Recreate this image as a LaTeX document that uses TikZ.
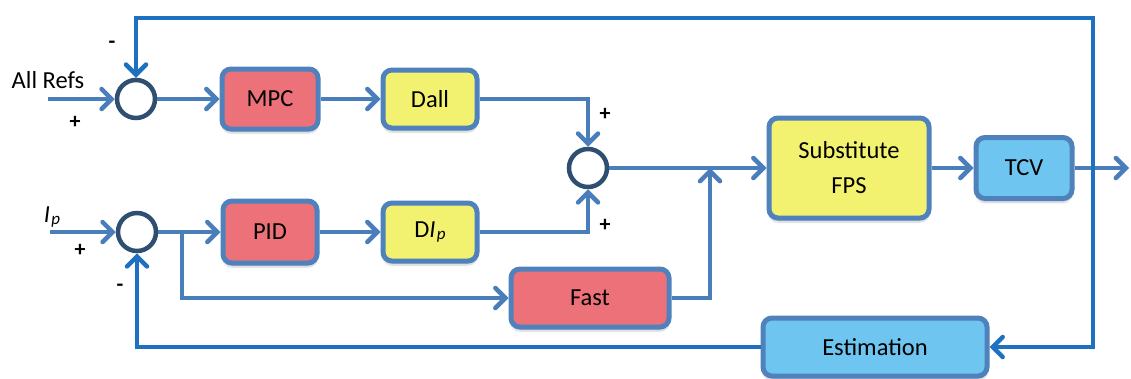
\documentclass[tikz,border=0pt]{standalone}
\usepackage{fontspec}
\setmainfont{Carlito}
\usetikzlibrary{arrows.meta,shadows.blur}
\definecolor{flowblue}{RGB}{74,126,187}
\definecolor{loopblue}{RGB}{30,112,192}
\definecolor{ringblue}{RGB}{46,78,114}
\definecolor{edgeblue}{RGB}{79,129,189}
\definecolor{ctrlred}{RGB}{236,113,120}
\definecolor{plantyel}{RGB}{242,242,112}
\definecolor{procblue}{RGB}{110,197,240}
\newcommand{\Ip}{{\itshape I\kern0.05em\raisebox{-0.2ex}{\fontsize{17}{17}\selectfont p}}}
\tikzset{
  block/.style={draw=edgeblue, line width=5pt, rounded corners=9pt, align=center,
    inner sep=0pt, font=\fontsize{24.5}{29}\selectfont,
    blur shadow={shadow xshift=0pt, shadow yshift=-4pt, shadow opacity=20, shadow blur steps=6}},
  ctrl/.style={block, fill=ctrlred},
  plant/.style={block, fill=plantyel},
  proc/.style={block, fill=procblue},
  summer/.style={circle, draw=ringblue, line width=4.5pt, fill=white, minimum size=38pt, inner sep=0pt},
  flow/.style={draw=flowblue, line width=4.5pt, -{Straight Barb[length=10pt,width=20pt,line cap=round]}},
  loop/.style={draw=loopblue, line width=4.5pt, -{Straight Barb[length=10pt,width=20pt,line cap=round]}},
  sign/.style={font=\bfseries\fontsize{22}{22}\selectfont, inner sep=0pt},
  lbl/.style={font=\fontsize{24.5}{29}\selectfont, inner sep=0pt}
}
\begin{document}
\begin{tikzpicture}[x=1pt, y=-1pt]
\useasboundingbox (0,0) rectangle (1131,378);

% summing junctions
\node[summer] (s1) at (136,99) {};
\node[summer] (s3) at (137,232) {};
\node[summer] (s2) at (588,168) {};

% blocks
\node[ctrl, minimum width=96pt, minimum height=60pt] (mpc) at (270,99) {MPC};
\node[plant, minimum width=94pt, minimum height=58pt] (dall) at (430,99) {Dall};
\node[ctrl, minimum width=94pt, minimum height=62pt] (pid) at (270,232) {PID};
\node[plant, minimum width=94pt, minimum height=58pt] (dip) at (430,232) {D\Ip};
\node[ctrl, minimum width=158pt, minimum height=58pt] (fast) at (590,298) {Fast};
\node[plant, minimum width=160pt, minimum height=100pt] (sub) at (849,168) {Substitute\\[6pt]FPS};
\node[proc, minimum width=96pt, minimum height=61pt] (tcv) at (1024,168) {TCV};
\node[proc, minimum width=224pt, minimum height=58pt] (est) at (875,347) {Estimation};

% labels and signs
\node[lbl] (allrefs) at (48,80) {All Refs};
\node[lbl] (iplbl) at (52,217) {\Ip};
\node[sign] (p1) at (75,122) {+};
\node[sign] (m1) at (112,45) {-};
\node[sign] (p3) at (80,250) {+};
\node[sign] (m3) at (120,288) {-};
\node[sign] (p2a) at (605,114) {+};
\node[sign] (p2b) at (605,225) {+};

% auxiliary points
\coordinate (in1) at (48,99);
\coordinate (in2) at (50,232);
\coordinate (split) at (182,232);
\coordinate (merge) at (710,168);
\coordinate (tap) at (1093,168);
\coordinate (out) at (1129,168);
\coordinate (topright) at (1093,18);
\coordinate (botright) at (1093,347);

% forward paths
\draw[flow] (in1) -- (s1.west);
\draw[flow] (s1.east) -- (mpc.west);
\draw[flow] (mpc.east) -- (dall.west);
\draw[flow] (dall.east) -| (s2.north);
\draw[flow] (in2) -- (s3.west);
\draw[flow] (s3.east) -- (pid.west);
\draw[flow] (pid.east) -- (dip.west);
\draw[flow] (dip.east) -| (s2.south);
\draw[flow] (split) |- (fast.west);
\draw[flow] (fast.east) -| (merge);
\draw[flow] (s2.east) -- (sub.west);
\draw[flow] (sub.east) -- (tcv.west);
\draw[flow] (tcv.east) -- (out);

% feedback paths
\draw[loop] (tap) -- (topright) -| (s1.north);
\draw[loop] (tap) -- (botright) -- (est.east);
\draw[loop] (est.west) -| (s3.south);
\end{tikzpicture}
\end{document}
